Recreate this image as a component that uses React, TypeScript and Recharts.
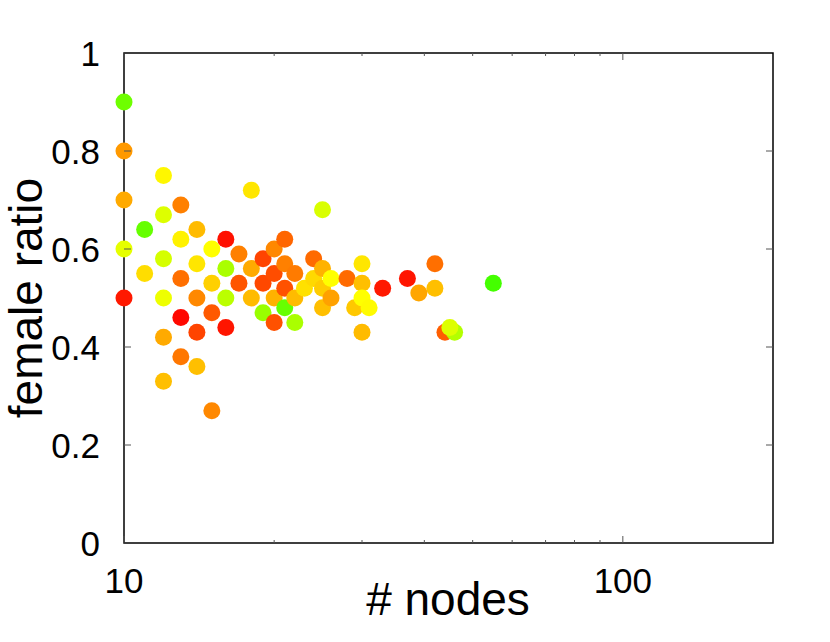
import { ReferenceArea, Scatter, ScatterChart, XAxis, YAxis } from "recharts";

document.body.style.margin = "0";

// number of nodes per network (log x)
const nodes = [
  10, 10, 10, 10, 10, 11, 11, 12, 12, 12, 12, 12, 12, 13, 13, 13, 13, 13, 14, 14,
  14, 14, 14, 15, 15, 15, 15, 16, 16, 16, 16, 17, 17, 18, 18, 18, 19, 19, 19, 20,
  20, 20, 20, 21, 21, 21, 21, 22, 22, 22, 23, 24, 24, 25, 25, 25, 25, 26, 26, 28,
  29, 30, 30, 30, 30, 31, 33, 37, 39, 42, 42, 44, 46, 45, 55,
];

const femaleRatio = [
  0.9, 0.8, 0.7, 0.6, 0.5, 0.64, 0.55, 0.75, 0.67, 0.58, 0.5, 0.42, 0.33, 0.69, 0.62,
  0.54, 0.46, 0.38, 0.64, 0.57, 0.5, 0.43, 0.36, 0.6, 0.53, 0.47, 0.27, 0.62, 0.56, 0.5,
  0.44, 0.59, 0.53, 0.72, 0.56, 0.5, 0.58, 0.53, 0.47, 0.6, 0.55, 0.5, 0.45, 0.62, 0.57,
  0.52, 0.48, 0.55, 0.5, 0.45, 0.52, 0.58, 0.54, 0.68, 0.56, 0.52, 0.48, 0.54, 0.5, 0.54,
  0.48, 0.57, 0.53, 0.5, 0.43, 0.48, 0.52, 0.54, 0.51, 0.57, 0.52, 0.43, 0.43, 0.44, 0.53,
];

// colour value of each point (hue: 0 red .. 120 green)
const hue = [
  94, 36, 40, 66, 6, 96, 52, 58, 68, 70, 64, 40, 45, 30, 57, 26, 2, 28, 44, 54, 32, 16,
  45, 60, 49, 21, 32, 4, 80, 76, 5, 30, 20, 54, 40, 44, 16, 17, 84, 32, 18, 42, 19, 24,
  30, 19, 96, 29, 44, 80, 53, 25, 51, 69, 42, 48, 45, 60, 38, 25, 47, 54, 45, 60, 44, 59,
  6, 5, 39, 26, 45, 22, 78, 68, 104,
];

const xTicks = [10, 20, 30, 40, 50, 60, 70, 80, 90, 100];
const xMajor = [10, 100];
const yTicks = [0, 0.2, 0.4, 0.6, 0.8, 1];
const yLabels = ["0", "0.2", "0.4", "0.6", "0.8", "1"];

const data = nodes.map((n, i) => ({ nodes: n, ratio: femaleRatio[i], hue: hue[i] }));

const W = 830;
const H = 642;
const TOP = 53;
const LEFT = 124;
const RIGHT = 773;
const BOTTOM = 543;
const FONT = "'Liberation Sans', Arial, Helvetica, sans-serif";
const TICK_COLOR = "#555";

function XTick({ x, payload }: any) {
  const v = payload.value;
  const major = xMajor.includes(v);
  const len = major ? 7 : 3;
  return (
    <g>
      <line x1={x} x2={x} y1={BOTTOM} y2={BOTTOM - len} stroke={TICK_COLOR} />
      <line x1={x} x2={x} y1={TOP} y2={TOP + len} stroke={TICK_COLOR} />
      {major && (
        <text x={x} y={593} textAnchor="middle" fontSize={35} fontFamily={FONT} fill="#000">
          {String(v)}
        </text>
      )}
    </g>
  );
}

function YTick({ y, payload }: any) {
  const i = yTicks.indexOf(payload.value);
  const inner = i > 0 && i < yTicks.length - 1;
  return (
    <g>
      {inner && <line x1={LEFT} x2={LEFT + 7} y1={y} y2={y} stroke={TICK_COLOR} />}
      {inner && <line x1={RIGHT - 7} x2={RIGHT} y1={y} y2={y} stroke={TICK_COLOR} />}
      <text x={100} y={y + 12.5} textAnchor="end" fontSize={35} fontFamily={FONT} fill="#000">
        {yLabels[i]}
      </text>
    </g>
  );
}

export default function App() {
  return (
    <div style={{ width: W, height: H, background: "#fff" }}>
      <ScatterChart width={W} height={H} margin={{ top: TOP, right: W - RIGHT, bottom: 0, left: 0 }}>
        <XAxis
          dataKey="nodes"
          type="number"
          scale="log"
          domain={[10, 200]}
          ticks={xTicks}
          interval={0}
          height={H - BOTTOM}
          axisLine={false}
          tickLine={false}
          tick={<XTick />}
          label={() => (
            <text x={448} y={615} textAnchor="middle" fontSize={46} fontFamily={FONT} fill="#000">
              # nodes
            </text>
          )}
        />
        <YAxis
          dataKey="ratio"
          type="number"
          domain={[0, 1]}
          ticks={yTicks}
          interval={0}
          width={LEFT}
          axisLine={false}
          tickLine={false}
          tick={<YTick />}
          label={() => (
            <text
              x={42}
              y={298}
              transform="rotate(-90 42 298)"
              textAnchor="middle"
              fontSize={46}
              fontFamily={FONT}
              fill="#000"
            >
              female ratio
            </text>
          )}
        />
        <Scatter
          data={data}
          isAnimationActive={false}
          shape={(p: any) => (
            <circle cx={p.cx} cy={p.cy} r={8.5} fill={`hsl(${p.payload.hue}, 100%, 50%)`} />
          )}
        />
        <ReferenceArea
          x1={10}
          x2={200}
          y1={0}
          y2={1}
          fill="none"
          stroke="#000"
          strokeWidth={1.5}
          ifOverflow="visible"
        />
      </ScatterChart>
    </div>
  );
}
